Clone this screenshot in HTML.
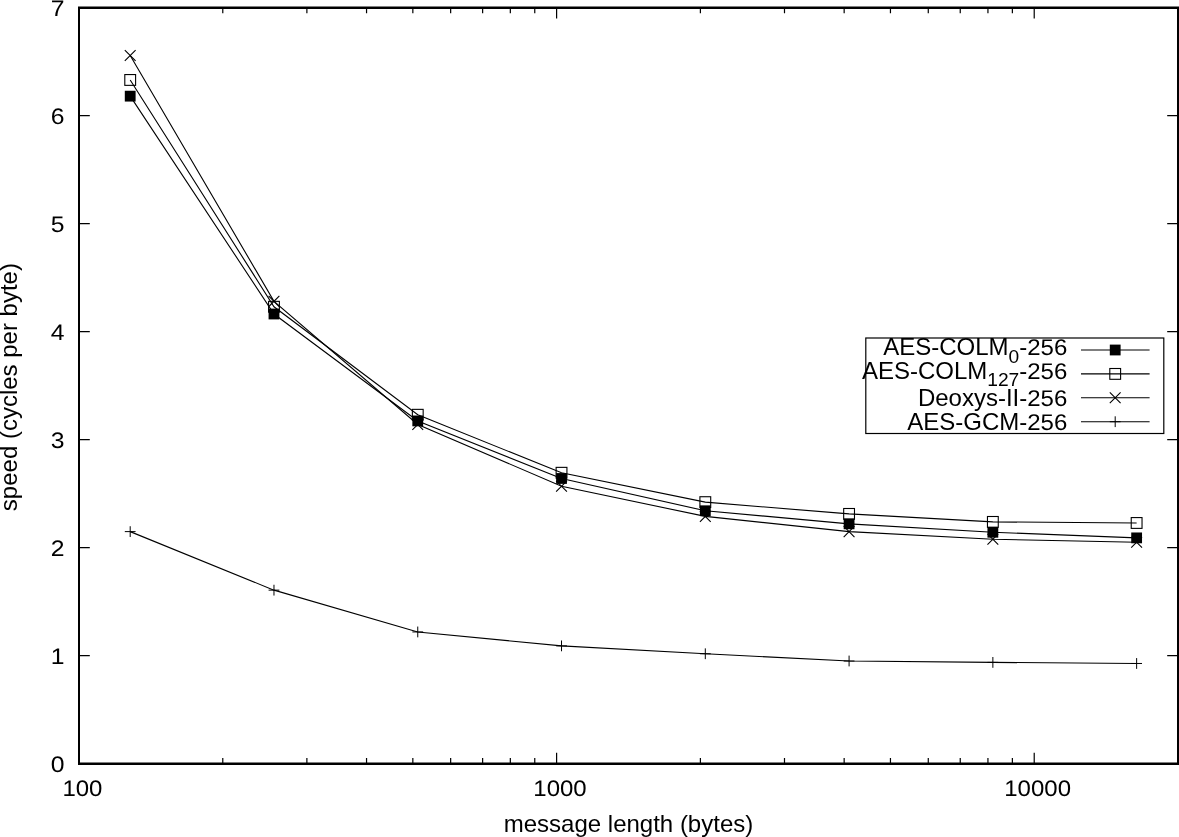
<!DOCTYPE html>
<html lang="en"><head><meta charset="utf-8"><title>speed vs message length</title>
<style>html,body{margin:0;padding:0;background:#fff}svg{display:block}</style></head>
<body>
<svg width="1179" height="837" viewBox="0 0 1179 837" font-family="'Liberation Sans', Arial, Helvetica, sans-serif" font-size="24.0" fill="#000">
<rect x="0" y="0" width="1179" height="837" fill="#fff"/>
<path d="M79.0 763.60h10.8M1178.0 763.60h-10.8M79.0 655.60h10.8M1178.0 655.60h-10.8M79.0 547.60h10.8M1178.0 547.60h-10.8M79.0 439.60h10.8M1178.0 439.60h-10.8M79.0 331.60h10.8M1178.0 331.60h-10.8M79.0 223.60h10.8M1178.0 223.60h-10.8M79.0 115.60h10.8M1178.0 115.60h-10.8M79.0 7.60h10.8M1178.0 7.60h-10.8M79.00 763.6v-10.8M79.00 7.6v10.8M556.61 763.6v-10.8M556.61 7.6v10.8M1034.22 763.6v-10.8M1034.22 7.6v10.8M222.78 763.6v-5.6M222.78 7.6v5.6M306.88 763.6v-5.6M306.88 7.6v5.6M366.55 763.6v-5.6M366.55 7.6v5.6M412.84 763.6v-5.6M412.84 7.6v5.6M450.65 763.6v-5.6M450.65 7.6v5.6M482.63 763.6v-5.6M482.63 7.6v5.6M510.33 763.6v-5.6M510.33 7.6v5.6M534.76 763.6v-5.6M534.76 7.6v5.6M700.39 763.6v-5.6M700.39 7.6v5.6M784.49 763.6v-5.6M784.49 7.6v5.6M844.16 763.6v-5.6M844.16 7.6v5.6M890.45 763.6v-5.6M890.45 7.6v5.6M928.27 763.6v-5.6M928.27 7.6v5.6M960.24 763.6v-5.6M960.24 7.6v5.6M987.94 763.6v-5.6M987.94 7.6v5.6M1012.37 763.6v-5.6M1012.37 7.6v5.6" stroke="#000" stroke-width="1.2" fill="none"/>
<path d="M130.20 96.16L273.98 314.00L417.76 420.92L561.53 478.48L705.31 510.77L849.08 523.84L992.86 532.26L1136.63 537.88" stroke="#000" stroke-width="1.1" fill="none"/>
<path d="M130.20 79.96L273.98 306.76L417.76 414.76L561.53 472.76L705.31 502.13L849.08 513.90L992.86 521.90L1136.63 522.98" stroke="#000" stroke-width="1.1" fill="none"/>
<path d="M130.20 55.44L273.98 301.36L417.76 424.48L561.53 486.26L705.31 516.39L849.08 531.62L992.86 539.18L1136.63 542.31" stroke="#000" stroke-width="1.1" fill="none"/>
<path d="M130.20 531.62L273.98 590.15L417.76 631.95L561.53 645.88L705.31 653.76L849.08 661.00L992.86 662.40L1136.63 663.48" stroke="#000" stroke-width="1.1" fill="none"/>
<rect x="124.80" y="90.76" width="10.8" height="10.8" fill="#000"/>
<rect x="268.58" y="308.60" width="10.8" height="10.8" fill="#000"/>
<rect x="412.36" y="415.52" width="10.8" height="10.8" fill="#000"/>
<rect x="556.13" y="473.08" width="10.8" height="10.8" fill="#000"/>
<rect x="699.91" y="505.37" width="10.8" height="10.8" fill="#000"/>
<rect x="843.68" y="518.44" width="10.8" height="10.8" fill="#000"/>
<rect x="987.46" y="526.86" width="10.8" height="10.8" fill="#000"/>
<rect x="1131.23" y="532.48" width="10.8" height="10.8" fill="#000"/>
<rect x="124.80" y="74.56" width="10.8" height="10.8" fill="none" stroke="#000" stroke-width="1.1"/>
<rect x="268.58" y="301.36" width="10.8" height="10.8" fill="none" stroke="#000" stroke-width="1.1"/>
<rect x="412.36" y="409.36" width="10.8" height="10.8" fill="none" stroke="#000" stroke-width="1.1"/>
<rect x="556.13" y="467.36" width="10.8" height="10.8" fill="none" stroke="#000" stroke-width="1.1"/>
<rect x="699.91" y="496.73" width="10.8" height="10.8" fill="none" stroke="#000" stroke-width="1.1"/>
<rect x="843.68" y="508.50" width="10.8" height="10.8" fill="none" stroke="#000" stroke-width="1.1"/>
<rect x="987.46" y="516.50" width="10.8" height="10.8" fill="none" stroke="#000" stroke-width="1.1"/>
<rect x="1131.23" y="517.58" width="10.8" height="10.8" fill="none" stroke="#000" stroke-width="1.1"/>
<path d="M124.80 50.04l10.8 10.8M124.80 60.84l10.8 -10.8" stroke="#000" stroke-width="1.1" fill="none"/>
<path d="M268.58 295.96l10.8 10.8M268.58 306.76l10.8 -10.8" stroke="#000" stroke-width="1.1" fill="none"/>
<path d="M412.36 419.08l10.8 10.8M412.36 429.88l10.8 -10.8" stroke="#000" stroke-width="1.1" fill="none"/>
<path d="M556.13 480.86l10.8 10.8M556.13 491.66l10.8 -10.8" stroke="#000" stroke-width="1.1" fill="none"/>
<path d="M699.91 510.99l10.8 10.8M699.91 521.79l10.8 -10.8" stroke="#000" stroke-width="1.1" fill="none"/>
<path d="M843.68 526.22l10.8 10.8M843.68 537.02l10.8 -10.8" stroke="#000" stroke-width="1.1" fill="none"/>
<path d="M987.46 533.78l10.8 10.8M987.46 544.58l10.8 -10.8" stroke="#000" stroke-width="1.1" fill="none"/>
<path d="M1131.23 536.91l10.8 10.8M1131.23 547.71l10.8 -10.8" stroke="#000" stroke-width="1.1" fill="none"/>
<path d="M124.80 531.62h10.8M130.20 526.22v10.8" stroke="#000" stroke-width="1" fill="none"/>
<path d="M268.58 590.15h10.8M273.98 584.75v10.8" stroke="#000" stroke-width="1" fill="none"/>
<path d="M412.36 631.95h10.8M417.76 626.55v10.8" stroke="#000" stroke-width="1" fill="none"/>
<path d="M556.13 645.88h10.8M561.53 640.48v10.8" stroke="#000" stroke-width="1" fill="none"/>
<path d="M699.91 653.76h10.8M705.31 648.36v10.8" stroke="#000" stroke-width="1" fill="none"/>
<path d="M843.68 661.00h10.8M849.08 655.60v10.8" stroke="#000" stroke-width="1" fill="none"/>
<path d="M987.46 662.40h10.8M992.86 657.00v10.8" stroke="#000" stroke-width="1" fill="none"/>
<path d="M1131.23 663.48h10.8M1136.63 658.08v10.8" stroke="#000" stroke-width="1" fill="none"/>
<path d="M79.0 7.6V763.6M1178.0 7.6V763.6" stroke="#000" stroke-width="2" fill="none"/>
<path d="M78.0 7.8H1179.0" stroke="#000" stroke-width="2.4" fill="none"/>
<path d="M78.0 763.75H1179.0" stroke="#000" stroke-width="2.5" fill="none"/>
<text transform="translate(64.5 772.10) scale(1.03 0.935)" text-rendering="geometricPrecision" text-anchor="end">0</text>
<text transform="translate(64.5 664.10) scale(1.03 0.935)" text-rendering="geometricPrecision" text-anchor="end">1</text>
<text transform="translate(64.5 556.10) scale(1.03 0.935)" text-rendering="geometricPrecision" text-anchor="end">2</text>
<text transform="translate(64.5 448.10) scale(1.03 0.935)" text-rendering="geometricPrecision" text-anchor="end">3</text>
<text transform="translate(64.5 340.10) scale(1.03 0.935)" text-rendering="geometricPrecision" text-anchor="end">4</text>
<text transform="translate(64.5 232.10) scale(1.03 0.935)" text-rendering="geometricPrecision" text-anchor="end">5</text>
<text transform="translate(64.5 124.10) scale(1.03 0.935)" text-rendering="geometricPrecision" text-anchor="end">6</text>
<text transform="translate(64.5 16.10) scale(1.03 0.935)" text-rendering="geometricPrecision" text-anchor="end">7</text>
<text transform="translate(82.40 795.5) scale(1 0.935)" text-rendering="geometricPrecision" text-anchor="middle">100</text>
<text transform="translate(560.01 795.5) scale(1 0.935)" text-rendering="geometricPrecision" text-anchor="middle">1000</text>
<text transform="translate(1037.62 795.5) scale(1 0.935)" text-rendering="geometricPrecision" text-anchor="middle">10000</text>
<text x="628.5" y="831.8" text-anchor="middle">message length (bytes)</text>
<text transform="translate(17 387.1) rotate(-90)" text-anchor="middle">speed (cycles per byte)</text>
<rect x="865.8" y="338.0" width="298.0" height="95.5" fill="none" stroke="#000" stroke-width="1.2"/>
<text x="1027.26" y="355.40" text-anchor="end">AES-COLM<tspan font-size="19.20" dy="7.1">0</tspan><tspan dy="-7.1">-</tspan></text>
<text transform="translate(1067.3 355.40) scale(1 0.945)" text-rendering="geometricPrecision" text-anchor="end">256</text>
<path d="M1081 350.0H1149.6" stroke="#000" stroke-width="1.1" fill="none"/>
<text x="1027.26" y="379.30" text-anchor="end">AES-COLM<tspan font-size="19.20" dy="7.1">127</tspan><tspan dy="-7.1">-</tspan></text>
<text transform="translate(1067.3 379.30) scale(1 0.945)" text-rendering="geometricPrecision" text-anchor="end">256</text>
<path d="M1081 373.9H1149.6" stroke="#000" stroke-width="1.1" fill="none"/>
<text x="1027.26" y="406.00" text-anchor="end">Deoxys-II-</text>
<text transform="translate(1067.3 406.00) scale(1 0.945)" text-rendering="geometricPrecision" text-anchor="end">256</text>
<path d="M1081 397.8H1149.6" stroke="#000" stroke-width="1.1" fill="none"/>
<text x="1027.26" y="429.90" text-anchor="end">AES-GCM-</text>
<text transform="translate(1067.3 429.90) scale(1 0.945)" text-rendering="geometricPrecision" text-anchor="end">256</text>
<path d="M1081 421.7H1149.6" stroke="#000" stroke-width="1.1" fill="none"/>
<rect x="1109.80" y="344.60" width="10.8" height="10.8" fill="#000"/>
<rect x="1109.80" y="368.50" width="10.8" height="10.8" fill="none" stroke="#000" stroke-width="1.1"/>
<path d="M1109.80 392.40l10.8 10.8M1109.80 403.20l10.8 -10.8" stroke="#000" stroke-width="1.1" fill="none"/>
<path d="M1109.80 421.70h10.8M1115.20 416.30v10.8" stroke="#000" stroke-width="1" fill="none"/>
</svg>
</body></html>
